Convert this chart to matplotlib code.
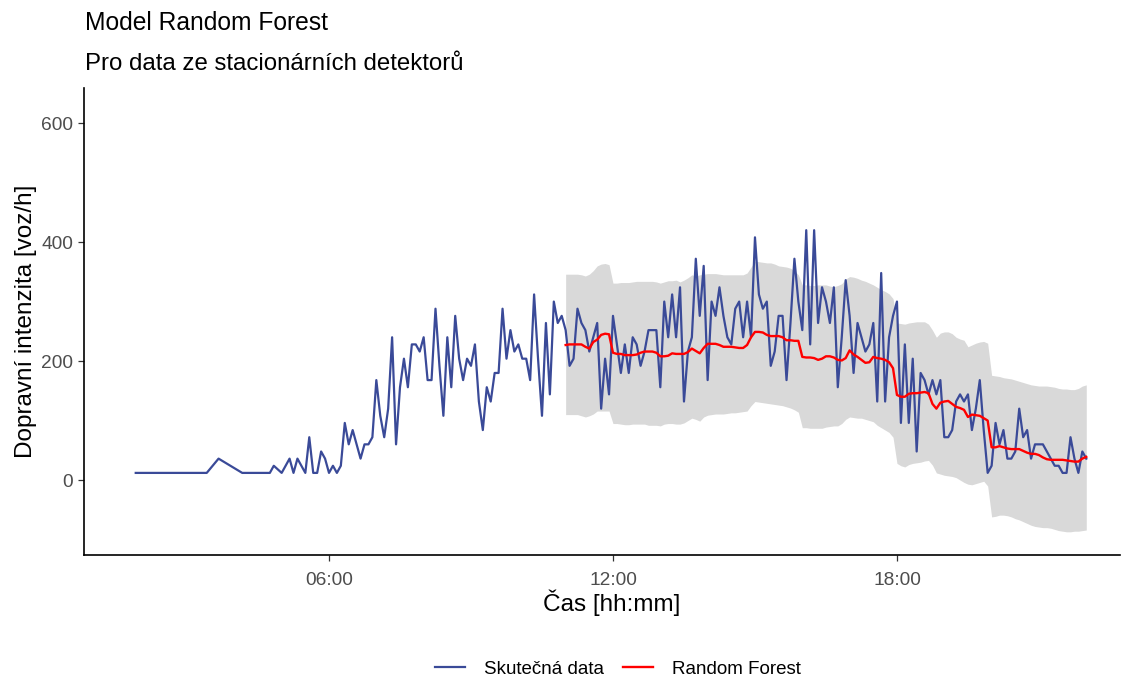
import numpy as np
import matplotlib
matplotlib.use("Agg")
import matplotlib.pyplot as plt
from matplotlib.lines import Line2D

plt.rcParams['font.family'] = ['Liberation Sans', 'DejaVu Sans']

# ---- data ----
early_times = ["01:55", "03:25", "03:40", "04:10", "04:45", "04:50", "05:00", "05:10", "05:15", "05:20"]
early_values = [12, 12, 36, 12, 12, 24, 12, 36, 12, 36]

regular_start = "05:30"
step_minutes = 5
actual_values = [
    12, 72, 12, 12, 48, 36, 12, 24, 12, 24,
    96, 60, 84, 60, 36, 60, 60, 72, 168, 108,
    72, 120, 240, 60, 156, 204, 156, 228, 228, 216,
    240, 168, 168, 288, 192, 108, 240, 156, 276, 204,
    168, 204, 192, 228, 132, 84, 156, 132, 180, 180,
    288, 204, 252, 216, 228, 204, 204, 168, 312, 204,
    108, 264, 144, 300, 264, 276, 252, 192, 204, 288,
    264, 252, 216, 240, 264, 120, 204, 144, 276, 228,
    180, 228, 180, 240, 228, 192, 216, 252, 252, 252,
    156, 300, 240, 312, 240, 324, 132, 216, 240, 372,
    276, 360, 168, 300, 276, 324, 276, 240, 228, 288,
    300, 240, 300, 240, 408, 312, 288, 300, 192, 216,
    276, 276, 168, 264, 372, 300, 252, 420, 228, 420,
    264, 324, 300, 264, 324, 156, 240, 336, 276, 180,
    264, 240, 216, 228, 264, 132, 348, 132, 240, 276,
    300, 96, 228, 96, 204, 48, 180, 168, 144, 168,
    144, 168, 72, 72, 84, 132, 144, 132, 144, 84,
    120, 168, 84, 12, 24, 96, 60, 84, 36, 36,
    48, 120, 72, 84, 36, 60, 60, 60, 48, 36,
    24, 24, 12, 12, 72, 36, 12, 48, 36,
]

forecast_start_index = 66
rf_values = [
    227, 228, 228, 228, 228, 224, 221, 232, 236, 244,
    246, 245, 214, 212, 212, 210, 210, 210, 211, 214,
    216, 216, 216, 214, 208, 208, 209, 213, 212, 212,
    212, 215, 221, 217, 213, 222, 229, 229, 229, 227,
    224, 224, 224, 223, 222, 222, 227, 240, 249, 249,
    248, 244, 242, 242, 242, 240, 235, 235, 234, 234,
    207, 206, 206, 205, 202, 204, 208, 208, 206, 202,
    201, 205, 218, 211, 207, 202, 197, 198, 207, 205,
    204, 202, 198, 188, 143, 140, 140, 145, 146, 146,
    147, 148, 146, 128, 120, 130, 132, 133, 128, 123,
    121, 118, 106, 110, 109, 108, 104, 100, 55, 55,
    57, 55, 53, 52, 52, 52, 49, 46, 44, 44,
    42, 38, 35, 34, 34, 34, 34, 33, 32, 31,
    31, 36, 39,
]
rf_upper = [
    346, 346, 346, 346, 345, 343, 346, 352, 360, 363,
    364, 362, 331, 331, 332, 332, 332, 333, 334, 334,
    334, 334, 334, 333, 331, 333, 335, 335, 336, 333,
    336, 340, 345, 343, 345, 346, 347, 347, 347, 346,
    345, 345, 345, 345, 345, 345, 348, 358, 368, 367,
    366, 365, 365, 363, 360, 359, 358, 356, 352, 345,
    328, 328, 327, 327, 328, 328, 328, 326, 325, 327,
    330, 338, 342, 341, 339, 336, 334, 331, 328, 324,
    320, 317, 313, 305, 264, 263, 262, 264, 265, 266,
    266, 266, 262, 252, 240, 247, 249, 249, 246, 240,
    237, 235, 224, 227, 230, 232, 233, 230, 176, 175,
    174, 172, 171, 170, 168, 166, 164, 162, 160, 159,
    158, 158, 158, 157, 156, 154, 153, 153, 152, 152,
    154, 158, 160,
]
rf_lower = [
    110, 110, 110, 110, 108, 106, 108, 111, 116, 116,
    116, 116, 95, 95, 94, 93, 93, 94, 94, 94,
    94, 92, 92, 92, 91, 94, 95, 95, 94, 94,
    96, 100, 104, 102, 99, 106, 109, 110, 111, 111,
    111, 112, 113, 113, 114, 115, 116, 125, 132, 131,
    130, 129, 128, 127, 126, 125, 123, 121, 118, 114,
    88, 88, 87, 87, 87, 87, 89, 90, 91, 91,
    95, 102, 106, 105, 104, 104, 102, 100, 98, 92,
    88, 84, 80, 72, 28, 24, 22, 26, 28, 29,
    30, 32, 33, 25, 12, 10, 8, 7, 6, 4,
    0, -4, -7, -8, -6, -4, -2, -10, -62, -61,
    -59, -59, -60, -62, -65, -67, -70, -73, -76, -78,
    -79, -80, -80, -81, -83, -85, -86, -87, -87, -86,
    -86, -85, -84,
]

tick_hours = [6, 12, 18]
tick_labels = ["06:00", "12:00", "18:00"]
y_ticks = [0, 200, 400, 600]

title = "Model Random Forest"
subtitle = "Pro data ze stacionárních detektorů"
xlabel = "Čas [hh:mm]"
ylabel = "Dopravní intenzita [voz/h]"
legend_labels = ["Skutečná data", "Random Forest"]


def to_hours(s):
    h, m = s.split(":")
    return int(h) + int(m) / 60.0


early_h = np.array([to_hours(t) for t in early_times])
reg_h = to_hours(regular_start) + np.arange(len(actual_values)) * step_minutes / 60.0
actual_h = np.concatenate([early_h, reg_h])
actual_v = np.concatenate([early_values, actual_values])
rf_h = reg_h[forecast_start_index:forecast_start_index + len(rf_values)]

blue = "#3A4A98"
red = "#FF0000"
ribbon = "#D9D9D9"
txt = "#4D4D4D"

W, H = 1126, 676
fig = plt.figure(figsize=(W / 100, H / 100), dpi=100)
ax_left, ax_right = 84, 1120
ax = fig.add_axes([ax_left / W, 121 / H, (ax_right - ax_left) / W, (555 - 88) / H])

ax.fill_between(rf_h, rf_lower, rf_upper, color=ribbon, linewidth=0, zorder=1)
ax.plot(actual_h, actual_v, color=blue, lw=1.6, zorder=2, solid_joinstyle='round')
ax.plot(rf_h, rf_values, color=red, lw=1.7, zorder=3, solid_joinstyle='round')

px_per_h = 47.33
ax.set_xlim(6 + (ax_left - 329) / px_per_h, 6 + (ax_right - 329) / px_per_h)
ax.set_ylim(-126, 659)

ax.set_xticks(tick_hours)
ax.set_xticklabels(tick_labels)
ax.set_yticks(y_ticks)
ax.tick_params(axis='both', colors='#333333', labelcolor=txt, labelsize=13.8,
               length=4, width=0.9)
ax.tick_params(axis='x', pad=8)
ax.tick_params(axis='y', pad=4)

for s in ['top', 'right']:
    ax.spines[s].set_visible(False)
for s in ['left', 'bottom']:
    ax.spines[s].set_linewidth(1.2)
    ax.spines[s].set_color('black')

ax.set_xlabel(xlabel, fontsize=17.5, labelpad=2, color='black')
ax.xaxis.set_label_coords((612 - ax_left) / (ax_right - ax_left), -48 / (555 - 88))
ax.xaxis.label.set_va('center')
ax.set_ylabel(ylabel, fontsize=17.5, labelpad=3, color='black')

fig.text(85 / W, 1 - 23 / H, title, fontsize=17.7, va='center', ha='left')
fig.text(85 / W, 1 - 64 / H, subtitle, fontsize=17.3, va='center', ha='left')

handles = [Line2D([0], [0], color=blue, lw=1.6), Line2D([0], [0], color=red, lw=1.7)]
fig.legend(handles, legend_labels, loc='center', bbox_to_anchor=(618 / W, 1 - 669 / H),
           ncol=2, frameon=False, fontsize=13.5, handlelength=1.6, columnspacing=1.0,
           handletextpad=1.0)

fig.savefig("out.png", dpi=100)
